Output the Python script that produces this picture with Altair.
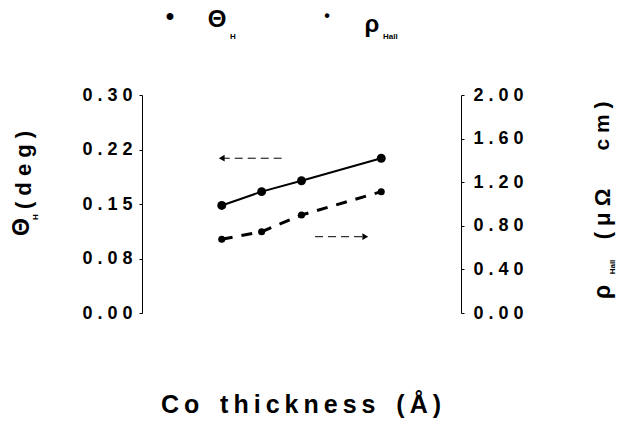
import altair as alt
import pandas as pd

# ---- data ----
thickness = [2.0, 2.5, 3.0, 4.0]                 # Co thickness (Å)
theta_h = [0.148, 0.167, 0.182, 0.213]           # Θ_H (deg), left axis
rho_hall = [0.676, 0.746, 0.899, 1.113]          # ρ_Hall (μΩ cm), right axis

x_ticks = [1, 2, 3, 4, 5]
left_tick_values = [0.0, 0.075, 0.15, 0.225, 0.30]
left_tick_labels = ["0.00", "0.08", "0.15", "0.22", "0.30"]
right_tick_values = [0.0, 0.4, 0.8, 1.2, 1.6, 2.0]
right_tick_labels = ["0.00", "0.40", "0.80", "1.20", "1.60", "2.00"]

# annotation arrows (data units): which axis each curve belongs to
arrow_left_x = [2.0, 2.75]
arrow_left_y = [0.213, 0.213]
arrow_right_x = [3.17, 3.80]
arrow_right_y = [0.70, 0.70]

FONT = "Liberation Sans"
SP = "\u2009"
NB = "\u00a0"


def spaced(s, sep=" "):
    return sep.join(list(s))


def label_expr(values, labels):
    expr = "''"
    for v, l in reversed(list(zip(values, labels))):
        expr = f"abs(datum.value - {v}) < 1e-6 ? '{spaced(l)}' : ({expr})"
    return expr


df = pd.DataFrame({"thickness": thickness, "theta": theta_h, "rho": rho_hall})
arr_l = pd.DataFrame({"x": arrow_left_x, "y": arrow_left_y})
arr_r = pd.DataFrame({"x": arrow_right_x, "y": arrow_right_y})

x_scale = alt.Scale(domain=[1, 5], nice=False, zero=False)
x_enc = alt.X(
    "thickness:Q",
    scale=x_scale,
    axis=alt.Axis(
        values=x_ticks, format="d", title=None, grid=False, ticks=False,
        labelPadding=19, labelFont=FONT, labelFontSize=18, labelFontWeight="bold",
        labelColor="black", domainColor="black", domainDash=[7, 5], domainWidth=1,
    ),
)

yl_scale = alt.Scale(domain=[0, 0.30], nice=False, zero=False)
yr_scale = alt.Scale(domain=[0, 2.0], nice=False, zero=False)

yl_axis = alt.Axis(
    orient="left", values=left_tick_values, labelExpr=label_expr(left_tick_values, left_tick_labels),
    title=None, grid=False, tickSize=3, tickColor="black", labelPadding=7,
    labelFont=FONT, labelFontSize=18, labelFontWeight="bold", labelColor="black",
    domainColor="black", domainWidth=1,
)
yr_axis = alt.Axis(
    orient="right", values=right_tick_values, labelExpr=label_expr(right_tick_values, right_tick_labels),
    title=None, grid=False, tickSize=3, tickColor="black", labelPadding=9,
    labelFont=FONT, labelFontSize=18, labelFontWeight="bold", labelColor="black",
    domainColor="black", domainWidth=1,
)

base = alt.Chart(df)

theta_line = base.mark_line(color="black", strokeWidth=2).encode(
    x=x_enc, y=alt.Y("theta:Q", scale=yl_scale, axis=yl_axis))
theta_pts = base.mark_point(filled=True, color="black", size=80, opacity=1).encode(
    x=x_enc, y=alt.Y("theta:Q", scale=yl_scale, axis=yl_axis))
arrow_l_line = alt.Chart(arr_l).mark_line(color="black", strokeWidth=1, strokeDash=[8, 5]).encode(
    x=alt.X("x:Q", scale=x_scale, axis=None),
    y=alt.Y("y:Q", scale=yl_scale, axis=yl_axis))
arrow_l_head = alt.Chart(arr_l.iloc[[0]]).mark_point(
    shape="triangle-left", filled=True, color="black", size=45, opacity=1).encode(
    x=alt.X("x:Q", scale=x_scale, axis=None),
    y=alt.Y("y:Q", scale=yl_scale, axis=yl_axis))

left_group = alt.layer(theta_line, theta_pts, arrow_l_line, arrow_l_head)

rho_line = base.mark_line(color="black", strokeWidth=3, strokeDash=[11, 9]).encode(
    x=x_enc, y=alt.Y("rho:Q", scale=yr_scale, axis=yr_axis))
rho_pts = base.mark_point(filled=True, color="black", size=50, opacity=1).encode(
    x=x_enc, y=alt.Y("rho:Q", scale=yr_scale, axis=yr_axis))
arrow_r_line = alt.Chart(arr_r).mark_line(color="black", strokeWidth=1, strokeDash=[8, 5]).encode(
    x=alt.X("x:Q", scale=x_scale, axis=None),
    y=alt.Y("y:Q", scale=yr_scale, axis=yr_axis))
arrow_r_head = alt.Chart(arr_r.iloc[[1]]).mark_point(
    shape="triangle-right", filled=True, color="black", size=45, opacity=1).encode(
    x=alt.X("x:Q", scale=x_scale, axis=None),
    y=alt.Y("y:Q", scale=yr_scale, axis=yr_axis))

right_group = alt.layer(rho_line, rho_pts, arrow_r_line, arrow_r_head)

one = pd.DataFrame({"k": [0]})


def txt(text, x, y, size, angle=0, align="center", baseline="middle"):
    props = dict(text=text, font=FONT, fontSize=size, fontWeight="bold", color="black",
                 align=align, baseline=baseline)
    if angle:
        props["angle"] = angle
    return alt.Chart(one).mark_text(**props).encode(x=alt.value(x), y=alt.value(y))


gap = NB * 3
texts = [
    # legend
    txt("•", 28, -78, 24),
    txt("Θ", 75, -75, 24),
    txt("H", 91, -58, 8),
    txt("•", 185, -79, 16),
    txt("ρ", 230, -70, 24),
    txt("Hall", 241, -58, 8, align="left"),
    # left axis title
    txt(spaced("(deg)"), -118, 75, 22, angle=270),
    txt("Θ", -120, 132, 23, angle=270),
    txt("H", -106, 122, 8, angle=270),
    # right axis title
    txt(spaced("cm)"), 461, 31, 21, angle=270),
    txt(spaced("(μΩ"), 461, 119, 22, angle=270),
    txt("ρ", 461, 197, 23, angle=270),
    txt("Hall", 471, 172, 8, angle=270),
    # x axis title
    txt(spaced("Co", SP) + gap + spaced("thickness", SP) + gap + spaced("(Å)", SP), 159, 310, 25),
]

chart = alt.layer(left_group, right_group, *texts).resolve_scale(y="independent").properties(
    width=319, height=218,
    autosize=alt.AutoSizeParams(type="none"),
    padding={"left": 142, "top": 95, "right": 163, "bottom": 117},
    background="white",
).configure_view(stroke=None)

chart.save("out.html", embed_options={"renderer": "svg", "actions": False})
